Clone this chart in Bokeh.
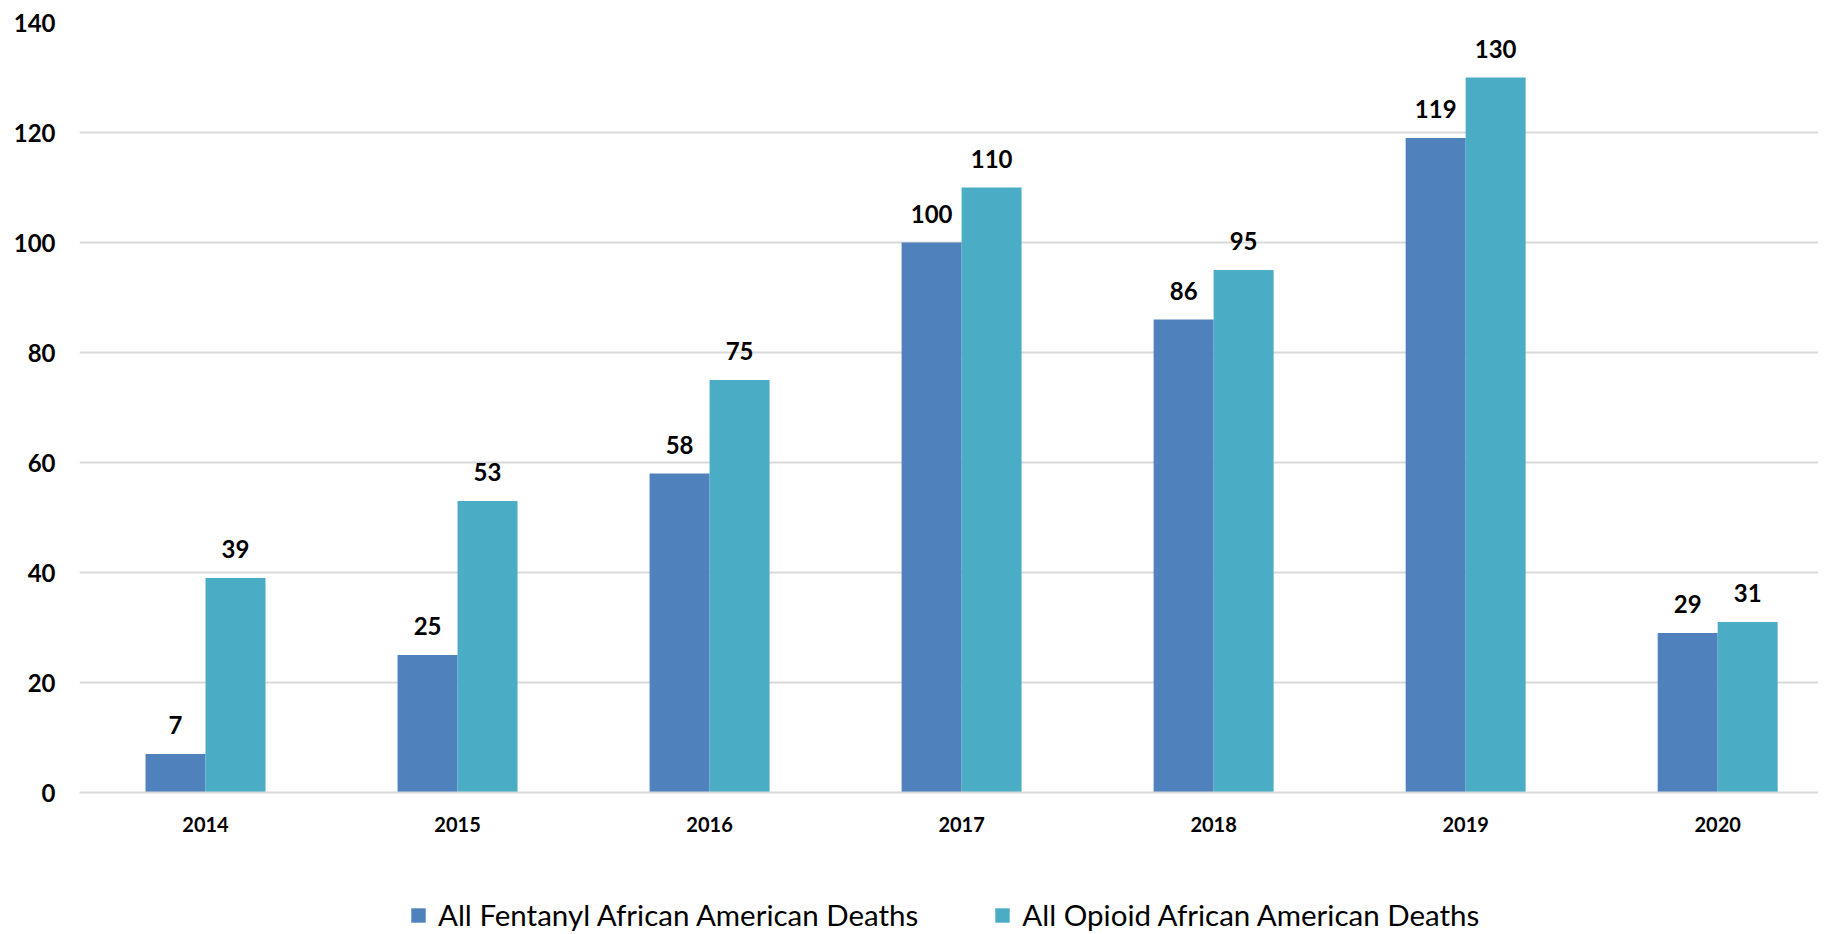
from bokeh.plotting import figure
from bokeh.models import ColumnDataSource, Legend, LegendItem, FixedTicker, Range1d
from bokeh.layouts import column
from bokeh.transform import dodge
from bokeh.core.properties import value
from bokeh.embed import file_html
from bokeh.resources import INLINE

years = ["2014", "2015", "2016", "2017", "2018", "2019", "2020"]
fentanyl = [7, 25, 58, 100, 86, 119, 29]
opioid = [39, 53, 75, 110, 95, 130, 31]
series_names = ["All Fentanyl African American Deaths", "All Opioid African American Deaths"]
colors = ["#4F81BD", "#4BACC6"]

FONT = "Lato"
idx = list(range(len(years)))
src = ColumnDataSource(dict(x=idx, f=fentanyl, o=opioid,
                            fl=[str(v) for v in fentanyl], ol=[str(v) for v in opioid]))

W = 1818
top, left, fh, bottom = 22, 79, 770, 50
p = figure(width=W, height=top + fh + bottom, output_backend="svg", toolbar_location=None,
           x_range=Range1d(-0.5, 6.40), y_range=Range1d(0, 140),
           min_border_left=left, min_border_top=top, min_border_right=0,
           min_border_bottom=bottom)
p.outline_line_color = None
p.background_fill_color = "white"
p.border_fill_color = "white"

bw = 0.238
r1 = p.vbar(x=dodge("x", -bw / 2, range=p.x_range), top="f", width=bw, bottom=0,
            source=src, fill_color=colors[0], line_color=None)
r2 = p.vbar(x=dodge("x", bw / 2, range=p.x_range), top="o", width=bw, bottom=0,
            source=src, fill_color=colors[1], line_color=None)

for col, lab, off in [("f", "fl", -bw / 2), ("o", "ol", bw / 2)]:
    p.text(x=dodge("x", off, range=p.x_range), y=col, text=lab, source=src,
           text_font=value(FONT), text_font_style="bold", text_font_size="24px",
           text_color="#000000", text_align="center", text_baseline="bottom", y_offset=-20)

p.xgrid.grid_line_color = None
p.ygrid.grid_line_color = "#d9d9d9"
p.ygrid.grid_line_width = 2
p.yaxis.ticker = FixedTicker(ticks=[0, 20, 40, 60, 80, 100, 120, 140])
p.xaxis.ticker = FixedTicker(ticks=idx)
p.xaxis.major_label_overrides = {i: y for i, y in enumerate(years)}

p.yaxis.axis_line_color = None
p.yaxis.major_tick_line_color = None
p.yaxis.minor_tick_line_color = None
p.yaxis.major_label_standoff = 18
p.yaxis.major_label_text_font = FONT
p.yaxis.major_label_text_font_style = "bold"
p.yaxis.major_label_text_font_size = "24px"
p.yaxis.major_label_text_color = "#000000"

p.xaxis.axis_line_color = "#d9d9d9"
p.xaxis.axis_line_width = 2
p.xaxis.major_tick_line_color = None
p.xaxis.minor_tick_line_color = None
p.xaxis.major_label_standoff = 18
p.xaxis.major_label_text_font = FONT
p.xaxis.major_label_text_font_style = "bold"
p.xaxis.major_label_text_font_size = "20px"
p.xaxis.major_label_text_color = "#000000"

# legend strip below the chart (legend proxies sit outside the strip's visible range)
LH = 90
lf = figure(width=W, height=LH, output_backend="svg", toolbar_location=None,
            x_range=Range1d(0, 1), y_range=Range1d(0, 1),
            min_border=0, x_axis_type=None, y_axis_type=None)
lf.outline_line_color = None
lf.grid.visible = False
proxy = ColumnDataSource(dict(x=[5], top=[1]))
l1 = lf.vbar(x="x", top="top", width=0.1, source=proxy, fill_color=colors[0], line_color=None)
l2 = lf.vbar(x="x", top="top", width=0.1, source=proxy, fill_color=colors[1], line_color=None)
legend = Legend(items=[LegendItem(label=series_names[0], renderers=[l1]),
                       LegendItem(label=series_names[1], renderers=[l2])],
                orientation="horizontal", location=(330, 0),
                glyph_width=18, glyph_height=18, label_standoff=11, spacing=75,
                label_text_font=FONT, label_text_font_size="29.5px", label_text_color="#000000",
                label_text_baseline="middle",
                border_line_color=None, background_fill_alpha=0, margin=0, padding=0,
                label_height=20)
lf.add_layout(legend, "center")

layout = column(p, lf, spacing=0)
open("out.html", "w").write(file_html(layout, INLINE))
